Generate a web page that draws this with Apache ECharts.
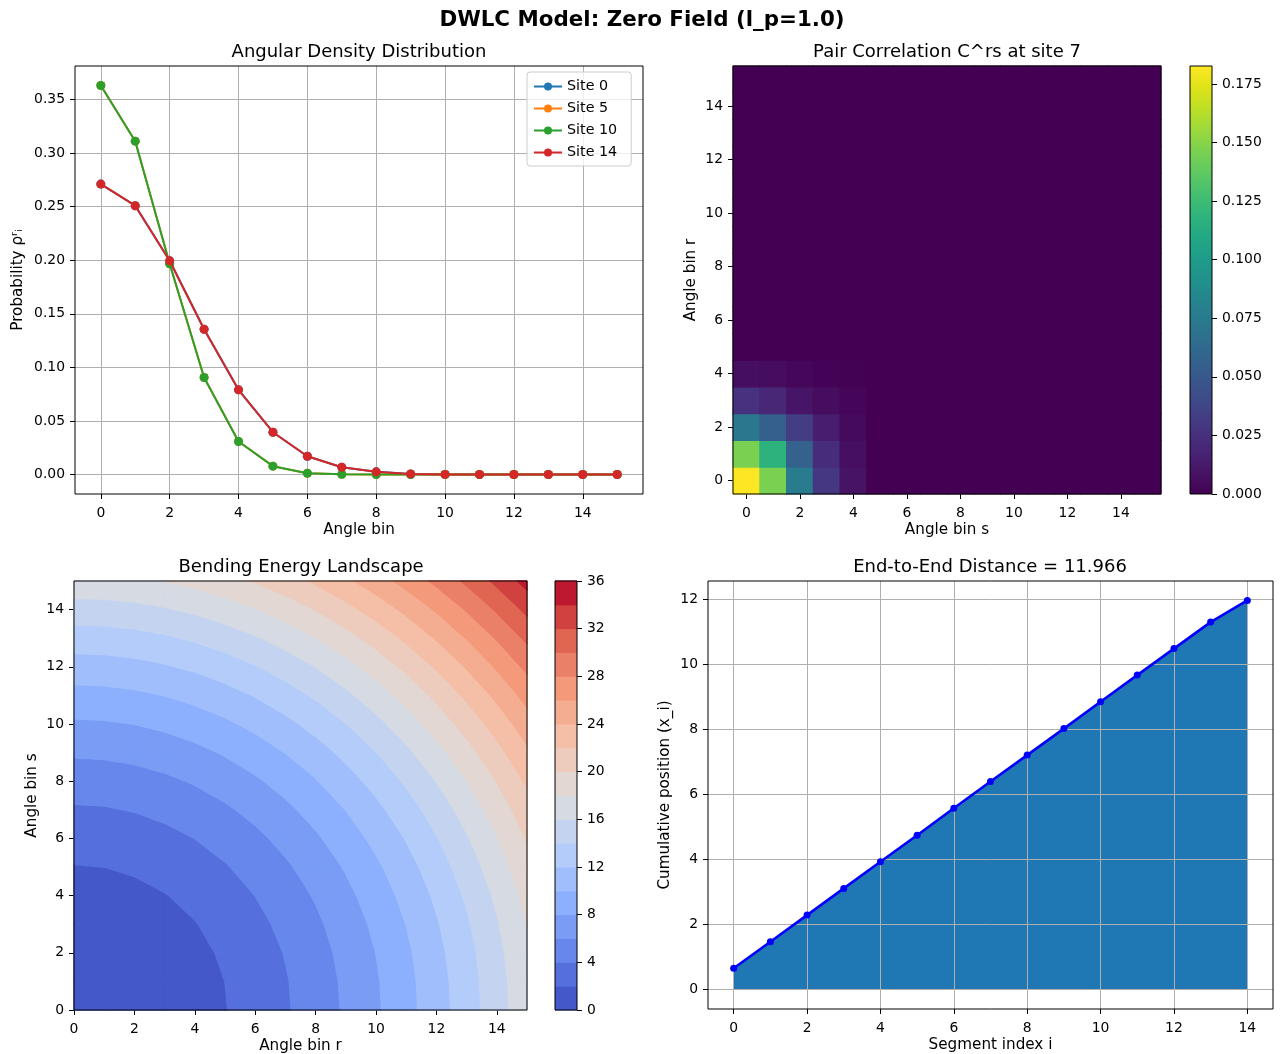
<!DOCTYPE html>
<html>
<head>
<meta charset="utf-8">
<script src="https://cdn.jsdelivr.net/npm/echarts@6/dist/echarts.min.js"></script>
<style>
html, body { margin: 0; padding: 0; background: #ffffff; }
#chart { width: 1280px; height: 1054px; }
</style>
</head>
<body>
<div id="chart"></div>
<script>
// ---------------- DATA ----------------
const angleBins = [0, 1, 2, 3, 4, 5, 6, 7, 8, 9, 10, 11, 12, 13, 14, 15];
const siteNames = ['Site 0', 'Site 5', 'Site 10', 'Site 14'];
const site0Density  = [0.271, 0.2508, 0.1994, 0.1356, 0.079, 0.0395, 0.0171, 0.0068, 0.0025, 0.0006, 0.0001, 0, 0, 0, 0, 0];
const site5Density  = [0.363, 0.311, 0.1966, 0.0905, 0.0308, 0.0078, 0.0012, 0.0002, 0, 0, 0, 0, 0, 0, 0, 0];
const site10Density = [0.363, 0.311, 0.1966, 0.0905, 0.0308, 0.0078, 0.0012, 0.0002, 0, 0, 0, 0, 0, 0, 0, 0];
const site14Density = [0.271, 0.2508, 0.1994, 0.1356, 0.079, 0.0395, 0.0171, 0.0068, 0.0025, 0.0006, 0.0001, 0, 0, 0, 0, 0];
const densityTicks = [0, 0.05, 0.10, 0.15, 0.20, 0.25, 0.30, 0.35];
const binTicks = [0, 2, 4, 6, 8, 10, 12, 14];

// Pair correlation C^rs at site 7, rows = r (0..15), columns = s (0..15)
const pairCorrelation = [
  [0.1827, 0.146, 0.075, 0.029, 0.009, 0, 0, 0, 0, 0, 0, 0, 0, 0, 0, 0],
  [0.146, 0.117, 0.057, 0.023, 0.007, 0, 0, 0, 0, 0, 0, 0, 0, 0, 0, 0],
  [0.073, 0.055, 0.033, 0.014, 0.0045, 0, 0, 0, 0, 0, 0, 0, 0, 0, 0, 0],
  [0.026, 0.020, 0.010, 0.0055, 0.002, 0, 0, 0, 0, 0, 0, 0, 0, 0, 0, 0],
  [0.0065, 0.0055, 0.003, 0.001, 0.0003, 0, 0, 0, 0, 0, 0, 0, 0, 0, 0, 0],
  [0, 0, 0, 0, 0, 0, 0, 0, 0, 0, 0, 0, 0, 0, 0, 0],
  [0, 0, 0, 0, 0, 0, 0, 0, 0, 0, 0, 0, 0, 0, 0, 0],
  [0, 0, 0, 0, 0, 0, 0, 0, 0, 0, 0, 0, 0, 0, 0, 0],
  [0, 0, 0, 0, 0, 0, 0, 0, 0, 0, 0, 0, 0, 0, 0, 0],
  [0, 0, 0, 0, 0, 0, 0, 0, 0, 0, 0, 0, 0, 0, 0, 0],
  [0, 0, 0, 0, 0, 0, 0, 0, 0, 0, 0, 0, 0, 0, 0, 0],
  [0, 0, 0, 0, 0, 0, 0, 0, 0, 0, 0, 0, 0, 0, 0, 0],
  [0, 0, 0, 0, 0, 0, 0, 0, 0, 0, 0, 0, 0, 0, 0, 0],
  [0, 0, 0, 0, 0, 0, 0, 0, 0, 0, 0, 0, 0, 0, 0, 0],
  [0, 0, 0, 0, 0, 0, 0, 0, 0, 0, 0, 0, 0, 0, 0, 0],
  [0, 0, 0, 0, 0, 0, 0, 0, 0, 0, 0, 0, 0, 0, 0, 0]
];
const pairTicks = [0, 0.025, 0.05, 0.075, 0.10, 0.125, 0.15, 0.175];

// Bending energy contribution of each angle bin; landscape value = E(r) + E(s)
const bendEnergyPerBin = [0, 0.077, 0.308, 0.694, 1.234, 1.928, 2.776, 3.778, 4.935, 6.246, 7.711, 9.330, 11.103, 13.031, 15.113, 17.349];
const energyLevels = [0, 2, 4, 6, 8, 10, 12, 14, 16, 18, 20, 22, 24, 26, 28, 30, 32, 34, 36];
const energyTicks = [0, 4, 8, 12, 16, 20, 24, 28, 32, 36];

const segmentIndex = [0, 1, 2, 3, 4, 5, 6, 7, 8, 9, 10, 11, 12, 13, 14];
const cumulativePosition = [0.657, 1.468, 2.29, 3.11, 3.93, 4.745, 5.575, 6.40, 7.21, 8.025, 8.85, 9.67, 10.485, 11.30, 11.966];
const positionTicks = [0, 2, 4, 6, 8, 10, 12];

// ---------------- STYLE HELPERS ----------------
const FONT = 'DejaVu Sans';
const TICK_TEXT = { color: '#000000', fontFamily: FONT, fontSize: 13.9 };
const NAME_TEXT = { color: '#000000', fontFamily: FONT, fontSize: 15.2 };
const siteColors = ['#1f77b4', '#ff7f0e', '#2ca02c', '#d62728'];
const viridis = ['#440154', '#471365', '#482475', '#463480', '#414487', '#3b528b', '#355f8d', '#2f6c8e', '#2a788e', '#25848e', '#21918c', '#1e9c89', '#22a884', '#2fb47c', '#44bf70', '#5ec962', '#7ad151', '#9bd93c', '#bddf26', '#dfe318', '#fde725'];
const coolwarmAnchors = [[59, 76, 192], [98, 130, 234], [141, 176, 254], [184, 208, 249], [221, 221, 221], [245, 196, 173], [244, 154, 123], [222, 96, 77], [180, 4, 38]];

function coolwarm(t) {
  const n = coolwarmAnchors.length - 1;
  const p = Math.max(0, Math.min(1, t)) * n;
  const i = Math.min(n - 1, Math.floor(p));
  const f = p - i;
  const a = coolwarmAnchors[i], b = coolwarmAnchors[i + 1];
  const c = [0, 1, 2].map(k => Math.round(a[k] + (b[k] - a[k]) * f));
  return 'rgb(' + c.join(',') + ')';
}
const eMin = energyLevels[0], eMax = energyLevels[energyLevels.length - 1];
const bandColors = energyLevels.slice(0, -1).map((lo, k) => coolwarm(((lo + energyLevels[k + 1]) / 2 - eMin) / (eMax - eMin)));

function tickCfg(values) {
  return { show: true, length: 5, inside: false, lineStyle: { color: '#000000', width: 1 }, customValues: values };
}
function labelCfg(values, fmt, margin) {
  const l = Object.assign({ show: true, margin: margin }, TICK_TEXT);
  l.customValues = values;
  if (fmt) l.formatter = fmt;
  return l;
}
const gridLine = { show: true, lineStyle: { color: '#b0b0b0', width: 1 } };
const noLine = { show: false, onZero: false };
const XM = 12, YM = 10;

// energy landscape grid built from the per-bin energies
const energyGrid = angleBins.map(r => angleBins.map(s => bendEnergyPerBin[r] + bendEnergyPerBin[s]));
const contourCells = [];
for (let r = 0; r < angleBins.length - 1; r++) {
  for (let s = 0; s < angleBins.length - 1; s++) contourCells.push([angleBins[r], angleBins[s]]);
}
function crossPoint(a, b, level) {
  const t = (level - a.v) / (b.v - a.v);
  return { x: a.x + t * (b.x - a.x), y: a.y + t * (b.y - a.y), v: level };
}
function clipPoly(poly, level, keepAbove) {
  const out = [];
  const inside = p => keepAbove ? p.v >= level : p.v <= level;
  for (let i = 0; i < poly.length; i++) {
    const a = poly[(i + poly.length - 1) % poly.length], b = poly[i];
    const ai = inside(a), bi = inside(b);
    if (bi) {
      if (!ai) out.push(crossPoint(a, b, level));
      out.push(b);
    } else if (ai) {
      out.push(crossPoint(a, b, level));
    }
  }
  return out;
}

const vmax = Math.max.apply(null, pairCorrelation.map(row => Math.max.apply(null, row)));
const heatData = [];
angleBins.forEach((r, ri) => angleBins.forEach((s, si) => heatData.push([si, ri, pairCorrelation[ri][si]])));

// axis ranges (matplotlib-style 5% margins)
const densMax = Math.max.apply(null, site5Density.concat(site0Density));
const posMax = Math.max.apply(null, cumulativePosition);

const gridBase = { show: true, z: 10, backgroundColor: 'transparent', borderColor: '#000000', borderWidth: 1, containLabel: false, outerBoundsMode: 'none' };
function titleText(x, y, text, size, weight) {
  return { type: 'text', x: x, y: y, z: 100, silent: true,
    style: { text: text, fontFamily: FONT, fontSize: size, fontWeight: weight || 'normal', fill: '#000', align: 'center', verticalAlign: 'middle', textAlign: 'center', textVerticalAlign: 'middle' } };
}

const option = {
  animation: false,
  backgroundColor: '#ffffff',
  textStyle: { fontFamily: FONT },
  graphic: [
    titleText(642, 20, 'DWLC Model: Zero Field (l_p=1.0)', 21.4, 'bold'),
    titleText(359, 52, 'Angular Density Distribution', 18),
    titleText(947, 52, 'Pair Correlation C^rs at site 7', 18),
    titleText(301, 567, 'Bending Energy Landscape', 18),
    titleText(990, 567, 'End-to-End Distance = ' + cumulativePosition[cumulativePosition.length - 1].toFixed(3), 18)
  ],
  legend: {
    show: true, orient: 'vertical', left: 527, top: 72,
    data: siteNames,
    selectedMode: false,
    backgroundColor: 'rgba(255,255,255,0.8)', borderColor: '#cccccc', borderWidth: 1, borderRadius: 3,
    padding: [7, 14, 6, 6], itemGap: 7, itemWidth: 28, itemHeight: 10, itemTextGap: 12,
    textStyle: { color: '#000', fontFamily: FONT, fontSize: 14.3, lineHeight: 15 }
  },
  grid: [
    Object.assign({ left: 75, top: 66, width: 568, height: 428 }, gridBase),
    Object.assign({ left: 733, top: 66, width: 428, height: 428 }, gridBase),
    Object.assign({ left: 1190, top: 66, width: 22, height: 428 }, gridBase),
    Object.assign({ left: 74, top: 581, width: 453, height: 429 }, gridBase),
    Object.assign({ left: 555, top: 581, width: 22, height: 429 }, gridBase),
    Object.assign({ left: 708, top: 581, width: 565, height: 428 }, gridBase)
  ],
  visualMap: [{
    type: 'continuous', show: false, seriesIndex: 4, dimension: 2,
    min: 0, max: vmax, inRange: { color: viridis }
  }],
  xAxis: [
    { gridIndex: 0, type: 'value', min: -0.75, max: 15.75, axisLine: noLine, axisTick: tickCfg(binTicks), axisLabel: labelCfg(binTicks, null, XM), splitLine: gridLine,
      name: 'Angle bin', nameLocation: 'middle', nameGap: 29, nameTextStyle: NAME_TEXT },
    { gridIndex: 1, type: 'category', data: angleBins.map(String), boundaryGap: true, axisLine: noLine,
      axisTick: { show: true, interval: 1, alignWithLabel: true, length: 5, lineStyle: { color: '#000', width: 1 } },
      axisLabel: Object.assign({ interval: 1, margin: XM }, TICK_TEXT), splitLine: noLine,
      name: 'Angle bin s', nameLocation: 'middle', nameGap: 29, nameTextStyle: NAME_TEXT },
    { gridIndex: 2, type: 'value', min: 0, max: 1, show: false, axisLine: noLine },
    { gridIndex: 3, type: 'value', min: 0, max: 15, axisLine: noLine, axisTick: tickCfg(binTicks), axisLabel: labelCfg(binTicks, null, XM), splitLine: noLine,
      name: 'Angle bin r', nameLocation: 'middle', nameGap: 29, nameTextStyle: NAME_TEXT },
    { gridIndex: 4, type: 'value', min: 0, max: 1, show: false, axisLine: noLine },
    { gridIndex: 5, type: 'value', min: -0.7, max: 14.7, z: 1, axisLine: noLine, axisTick: tickCfg(binTicks), axisLabel: labelCfg(binTicks, null, XM), splitLine: gridLine,
      name: 'Segment index i', nameLocation: 'middle', nameGap: 29, nameTextStyle: NAME_TEXT }
  ],
  yAxis: [
    { gridIndex: 0, type: 'value', min: -0.05 * densMax, max: 1.05 * densMax, axisLine: noLine, axisTick: tickCfg(densityTicks),
      axisLabel: labelCfg(densityTicks, v => v.toFixed(2), YM), splitLine: gridLine,
      name: 'Probability ρʳᵢ', nameLocation: 'middle', nameGap: 49, nameTextStyle: NAME_TEXT },
    { gridIndex: 1, type: 'category', data: angleBins.map(String), boundaryGap: true, axisLine: noLine,
      axisTick: { show: true, interval: 1, alignWithLabel: true, length: 5, lineStyle: { color: '#000', width: 1 } },
      axisLabel: Object.assign({ interval: 1, margin: YM }, TICK_TEXT), splitLine: noLine,
      name: 'Angle bin r', nameLocation: 'middle', nameGap: 34, nameTextStyle: NAME_TEXT },
    { gridIndex: 2, type: 'value', position: 'right', min: 0, max: vmax, axisLine: noLine, axisTick: tickCfg(pairTicks),
      axisLabel: labelCfg(pairTicks, v => v.toFixed(3), YM), splitLine: noLine },
    { gridIndex: 3, type: 'value', min: 0, max: 15, axisLine: noLine, axisTick: tickCfg(binTicks), axisLabel: labelCfg(binTicks, null, YM), splitLine: noLine,
      name: 'Angle bin s', nameLocation: 'middle', nameGap: 34, nameTextStyle: NAME_TEXT },
    { gridIndex: 4, type: 'value', position: 'right', min: eMin, max: eMax, axisLine: noLine, axisTick: tickCfg(energyTicks),
      axisLabel: labelCfg(energyTicks, null, YM), splitLine: noLine },
    { gridIndex: 5, type: 'value', min: -0.05 * posMax, max: 1.05 * posMax, z: 1, axisLine: noLine, axisTick: tickCfg(positionTicks),
      axisLabel: labelCfg(positionTicks, null, YM), splitLine: gridLine,
      name: 'Cumulative position (x_i)', nameLocation: 'middle', nameGap: 35, nameTextStyle: NAME_TEXT }
  ],
  series: [
    ...[site0Density, site5Density, site10Density, site14Density].map((vals, i) => ({
      name: siteNames[i], type: 'line', xAxisIndex: 0, yAxisIndex: 0,
      data: angleBins.map((b, j) => [b, vals[j]]),
      symbol: 'circle', symbolSize: 9, showSymbol: true,
      lineStyle: { color: siteColors[i], width: 2 },
      itemStyle: { color: siteColors[i] },
      emphasis: { disabled: true }, z: 2 + i * 0.1
    })),
    {
      type: 'custom', name: 'C^rs', xAxisIndex: 1, yAxisIndex: 1, data: heatData, silent: true,
      dimensions: ['s', 'r', 'value'], encode: { x: 0, y: 1 },
      renderItem: function (params, api) {
        const c = api.coord([api.value(0), api.value(1)]);
        const sz = api.size([1, 1]);
        return {
          type: 'rect',
          shape: { x: c[0] - sz[0] / 2 - 0.5, y: c[1] - sz[1] / 2 - 0.5, width: sz[0] + 1, height: sz[1] + 1 },
          style: { fill: api.visual('color') }
        };
      }
    },
    {
      type: 'custom', xAxisIndex: 2, yAxisIndex: 2, data: [[0, vmax]], silent: true,
      renderItem: function (params, api) {
        const p0 = api.coord([0, api.value(0)]);
        const p1 = api.coord([1, api.value(1)]);
        return {
          type: 'rect',
          shape: { x: p0[0], y: p1[1], width: p1[0] - p0[0], height: p0[1] - p1[1] },
          style: {
            fill: { type: 'linear', x: 0, y: 1, x2: 0, y2: 0, colorStops: viridis.map((c, i) => ({ offset: i / (viridis.length - 1), color: c })) }
          }
        };
      }
    },
    {
      type: 'custom', xAxisIndex: 3, yAxisIndex: 3, data: contourCells, silent: true,
      renderItem: function (params, api) {
        const r = api.value(0), s = api.value(1);
        const corners = [[r, s], [r + 1, s], [r + 1, s + 1], [r, s + 1]].map(c => ({ x: c[0], y: c[1], v: energyGrid[c[0]][c[1]] }));
        const children = [];
        for (let k = 0; k < energyLevels.length - 1; k++) {
          let poly = clipPoly(corners, energyLevels[k], true);
          if (poly.length < 3) continue;
          poly = clipPoly(poly, energyLevels[k + 1], false);
          if (poly.length < 3) continue;
          children.push({
            type: 'polygon',
            shape: { points: poly.map(p => api.coord([p.x, p.y])) },
            style: { fill: bandColors[k], stroke: bandColors[k], lineWidth: 1.3, lineJoin: 'round' }
          });
        }
        return { type: 'group', children: children };
      }
    },
    {
      type: 'custom', xAxisIndex: 4, yAxisIndex: 4, silent: true,
      data: energyLevels.slice(0, -1).map((lo, k) => [lo, energyLevels[k + 1], k]),
      renderItem: function (params, api) {
        const p0 = api.coord([0, api.value(0)]);
        const p1 = api.coord([1, api.value(1)]);
        const k = api.value(2);
        return {
          type: 'rect',
          shape: { x: p0[0], y: p1[1] - 0.5, width: p1[0] - p0[0], height: p0[1] - p1[1] + 1 },
          style: { fill: bandColors[k] }
        };
      }
    },
    {
      type: 'line', xAxisIndex: 5, yAxisIndex: 5, z: 0,
      data: segmentIndex.map((x, i) => [x, cumulativePosition[i]]),
      symbol: 'none', lineStyle: { width: 0, opacity: 0 },
      areaStyle: { color: '#1f77b4', opacity: 1, origin: 0 },
      emphasis: { disabled: true }, silent: true
    },
    {
      type: 'line', xAxisIndex: 5, yAxisIndex: 5, z: 3,
      data: segmentIndex.map((x, i) => [x, cumulativePosition[i]]),
      symbol: 'circle', symbolSize: 7, showSymbol: true,
      lineStyle: { color: '#0000ff', width: 2.6 },
      itemStyle: { color: '#0000ff' },
      emphasis: { disabled: true }
    }
  ]
};

const chart = echarts.init(document.getElementById('chart'), null, { renderer: 'canvas', width: 1280, height: 1054 });
chart.setOption(option);
</script>
</body>
</html>
